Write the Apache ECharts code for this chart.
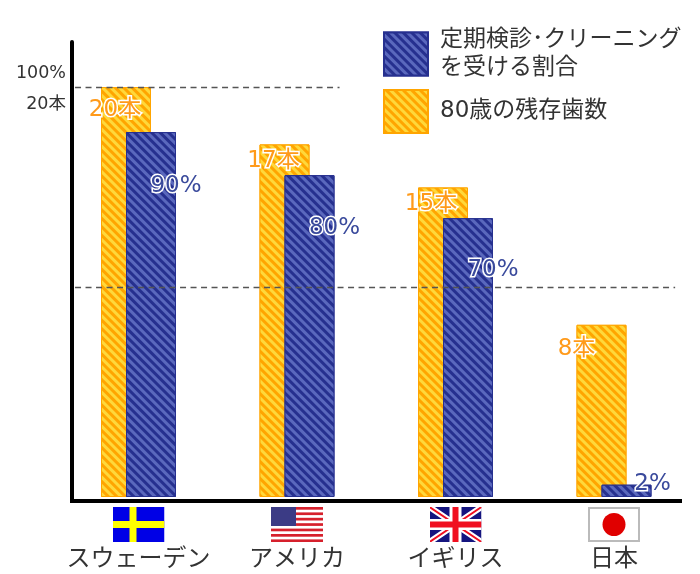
<!DOCTYPE html>
<html><head><meta charset="utf-8">
<style>html,body{margin:0;padding:0;background:#fff;overflow:hidden}#c{width:700px;height:574px}</style>
<script src="https://cdn.jsdelivr.net/npm/echarts@6/dist/echarts.min.js"></script>
</head><body><div id="c"></div>
<script>
const countries = ['スウェーデン','アメリカ','イギリス','日本'];
const teeth = [20, 17.2, 15.1, 8.4];
const teethLabels = ['20本','17本','15本','8本'];
const checkups = [89, 78.5, 68, 3];
const checkupLabels = ['90%','80%','70%','2%'];
const legendCheckups = '定期検診･クリーニング\nを受ける割合';
const legendTeeth = '80歳の残存歯数';
const tickText = '100%\n20本';
const tickPlace = [99.5];
const guideLevels = [100, 51.2];

const font = '"DejaVu Sans","Noto Sans CJK JP",sans-serif';
const svg = s => 'data:image/svg+xml;charset=utf-8,' + encodeURIComponent(s);
const W = 'xmlns="http://www.w3.org/2000/svg" viewBox="0 0 52 35" width="52" height="35"';
let stripes = '';
for (let i = 0; i < 7; i++) stripes += `<rect y="${i*5.4}" width="52" height="2.7" fill="#d6202c"/>`;
const flags = {
  se: svg(`<svg ${W}><rect width="52" height="35" fill="#0000e6"/><rect x="17" width="7" height="35" fill="#ffff00"/><rect y="14" width="52" height="7" fill="#ffff00"/></svg>`),
  us: svg(`<svg ${W}><rect width="52" height="35" fill="#fff"/>${stripes}<rect width="25" height="19" fill="#3b3b85"/></svg>`),
  uk: svg(`<svg ${W}><rect width="52" height="35" fill="#15157f"/><path d="M0 0L52 35M52 0L0 35" stroke="#fff" stroke-width="6"/><path d="M0 0L52 35M52 0L0 35" stroke="#f01020" stroke-width="2"/><rect x="20" width="12" height="35" fill="#fff"/><rect y="12" width="52" height="11" fill="#fff"/><rect x="23" width="6" height="35" fill="#f01020"/><rect y="14.5" width="52" height="6" fill="#f01020"/></svg>`),
  jp: svg(`<svg ${W}><rect x="1" y="1" width="50" height="33" fill="#fff" stroke="#bbb" stroke-width="2"/><circle cx="26" cy="17.5" r="11.5" fill="#e00000"/></svg>`)
};
const flagKeys = ['se','us','uk','jp'];
const flagRich = {};
flagKeys.forEach(k => flagRich[k] = {width:52, height:35, backgroundColor:{image:flags[k]}, lineHeight:35});

const orangeDecal = {symbol:'rect', symbolSize:1, dashArrayX:[1,0], dashArrayY:[3,3], rotation:Math.PI/4, color:'#ffd83a'};
const blueDecal = {symbol:'rect', symbolSize:1, dashArrayX:[1,0], dashArrayY:[3,3], rotation:Math.PI/4, color:'#5a68bd'};

const teethOffsets = [[-11,22],[-11,15],[-12,15],[-25,23]];
const checkupOffsets = [[25,52],[25,51],[25,50],[26,-2]];
const outlined = (c) => ({show:true, color:c, fontFamily:font, fontSize:23, textBorderColor:'#fff', textBorderWidth:3});

const chart = echarts.init(document.getElementById('c'), null, {renderer:'canvas'});
chart.setOption({
  animation:false,
  backgroundColor:'#fff',
  grid:[
    {left:72, right:20, top:42, bottom:73.5, outerBoundsMode:'none'},
    {left:59.25, right:6.75, top:42, bottom:77, outerBoundsMode:'none'}
  ],
  xAxis:[
    {gridIndex:0, type:'value', min:0, max:100, axisLine:{show:true, onZero:false, lineStyle:{color:'#000',width:4,cap:'square'}}, axisTick:{show:false}, axisLabel:{show:false}, splitLine:{show:false}},
    {gridIndex:1, type:'category', data:countries, axisLine:{show:false}, axisTick:{show:false},
     axisLabel:{interval:0, margin:10, lineHeight:30, formatter:(v,i)=>`{${flagKeys[i]}|}\n{name|${v}}`,
       rich:Object.assign({name:{fontFamily:font,fontSize:24,color:'#333',lineHeight:36,align:'center'}},flagRich)}}
  ],
  yAxis:[
    {gridIndex:0, type:'value', min:-0.85, max:110.98, axisLine:{show:true, onZero:false, lineStyle:{color:'#000',width:4}}, axisTick:{show:false}, splitLine:{show:false},
     axisLabel:{customValues:tickPlace, margin:6, align:'right', verticalAlign:'middle', lineHeight:31, color:'#333', fontFamily:font, fontSize:17.5, formatter:()=>tickText}},
    {gridIndex:1, type:'value', min:0, max:110.98, show:false},
    {gridIndex:1, type:'value', min:0, max:22.196, show:false}
  ],
  legend:{orient:'vertical', left:383, top:24, padding:0, itemWidth:44, itemHeight:43, itemGap:5, icon:'rect',
    data:[legendCheckups, legendTeeth],
    textStyle:{fontFamily:font, fontSize:23, color:'#333', lineHeight:28, padding:[4,0,0,7]}},
  series:[
    {type:'line', xAxisIndex:0, yAxisIndex:0, data:[], silent:true, symbol:'none', z:5,
     markLine:{silent:true, symbol:'none', z:5, label:{show:false},
       lineStyle:{color:'#555',type:[6,4.5],width:1.3},
       data:[
         [{coord:[0.5,guideLevels[0]]},{coord:[44,guideLevels[0]]}],
         [{coord:[0.5,guideLevels[1]]},{coord:[99.2,guideLevels[1]]}]
       ]}},
    {name:legendTeeth, type:'bar', xAxisIndex:1, yAxisIndex:2, barWidth:50, barGap:'-50%', z:3,
     itemStyle:{color:'#ffa500', borderColor:'#ffa500', borderWidth:1, decal:orangeDecal},
     data:teeth.map((v,i)=>({value:v, label:Object.assign(outlined('#ff9a1a'),{position:'top', offset:[teethOffsets[i][0], teethOffsets[i][1]+18], formatter:teethLabels[i]})}))},
    {name:legendCheckups, type:'bar', xAxisIndex:1, yAxisIndex:1, barWidth:50, z:4,
     itemStyle:{color:'#26308f', borderColor:'#26308f', borderWidth:1, decal:blueDecal},
     data:checkups.map((v,i)=>({value:v, label:Object.assign(outlined('#3a4a9c'),{position:'top', offset:[checkupOffsets[i][0], checkupOffsets[i][1]+18], formatter:checkupLabels[i]})}))}
  ]
});
</script></body></html>
